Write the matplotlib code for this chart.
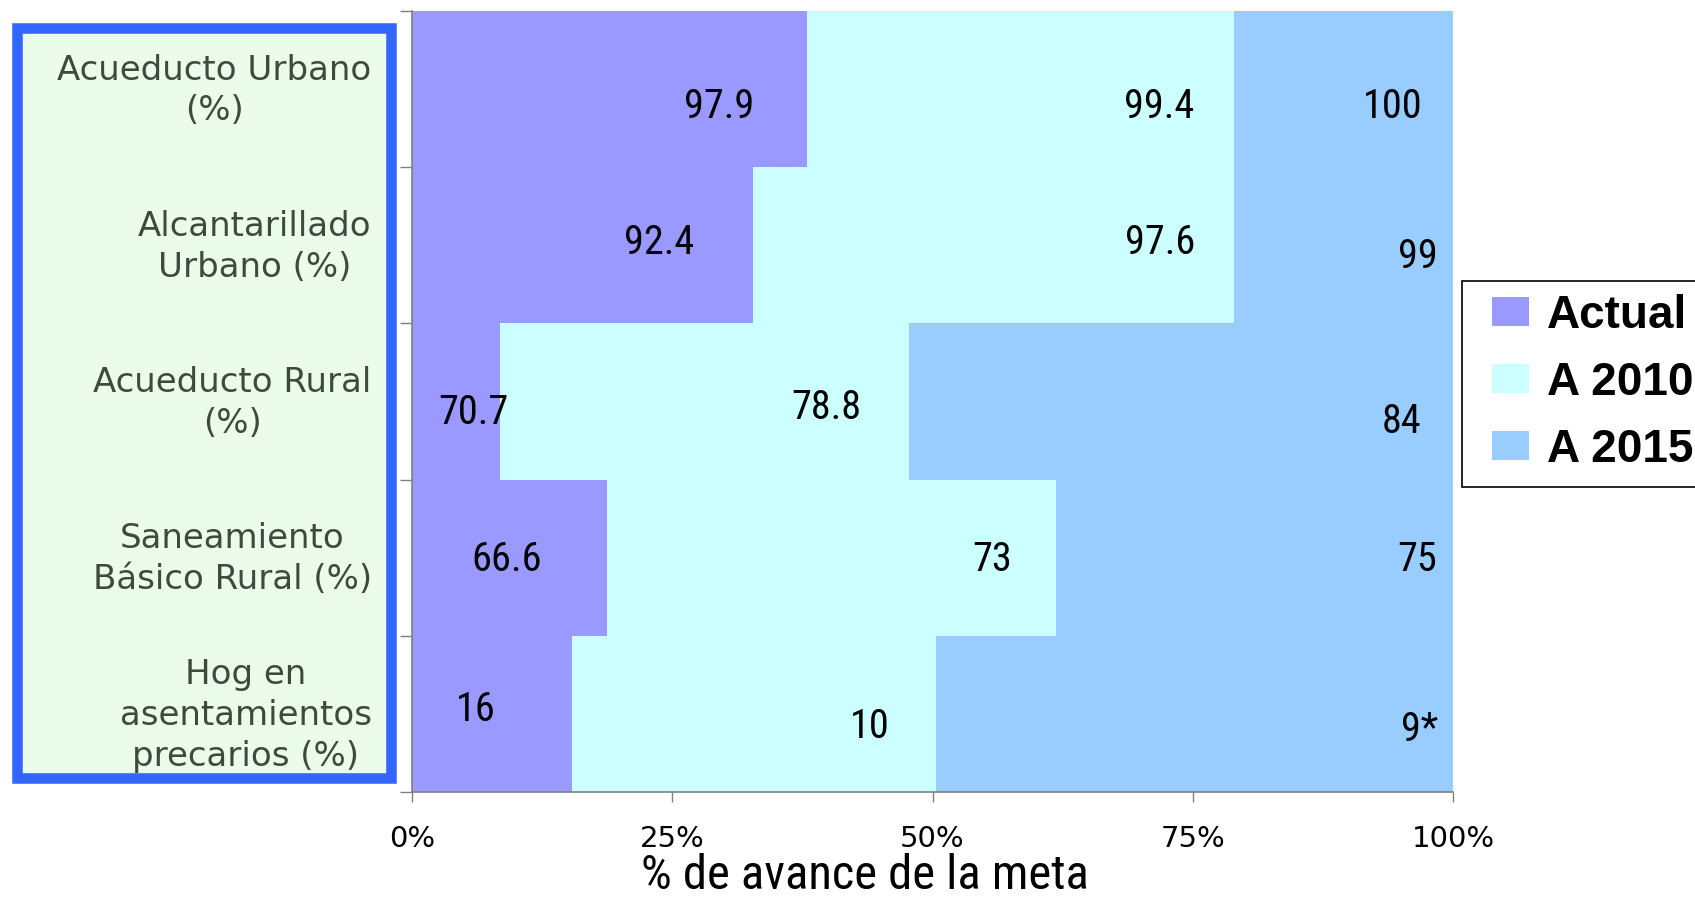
import numpy as np
import matplotlib
matplotlib.use("Agg")
import matplotlib.pyplot as plt
from matplotlib.patches import Rectangle, Patch
from matplotlib.transforms import ScaledTranslation

# datos
categorias = ["Acueducto Urbano\n(%)", "Alcantarillado\nUrbano (%)", "Acueducto Rural\n(%)",
              "Saneamiento\nBásico Rural (%)", "Hog en\nasentamientos\nprecarios (%)"]
series = ["Actual", "A 2010", "A 2015"]
# ancho de cada tramo (% de avance de la meta)
ancho_actual = [37.9, 32.8, 8.5, 18.7, 15.4]
ancho_2010 = [41.1, 46.2, 39.2, 43.2, 34.9]
ancho_2015 = [21.0, 21.0, 52.3, 38.1, 49.7]
# valores mostrados
val_actual = ["97.9", "92.4", "70.7", "66.6", "16"]
val_2010 = ["99.4", "97.6", "78.8", "73", "10"]
val_2015 = ["100", "99", "84", "75", "9*"]

colores = ["#9999ff", "#ccffff", "#99ccff"]

# posicion de las etiquetas (x en %, y en filas)
pos_actual = [(29.5, 0.11), (23.7, 0.98), (5.9, 2.07), (9.1, 3.01), (6.1, 3.97)]
pos_2010 = [(71.8, 0.11), (71.9, 0.98), (39.8, 2.04), (55.7, 3.01), (44.0, 4.08)]
pos_2015 = [(94.2, 0.11), (96.6, 1.07), (95.1, 2.13), (96.6, 3.01), (96.8, 4.10)]

fig = plt.figure(figsize=(16.95, 8.99), dpi=100)
ax = fig.add_axes([412/1695, 1-792/899, (1453-412)/1695, (792-11)/899])

y = np.arange(len(categorias))
izq = np.zeros(len(categorias))
for anchos, col in zip([ancho_actual, ancho_2010, ancho_2015], colores):
    ax.barh(y, anchos, left=izq, height=1.0, color=col, edgecolor="none")
    izq = izq + np.array(anchos)

fuente_num = ["Roboto Condensed", "Liberation Sans"]
for vals, pos in zip([val_actual, val_2010, val_2015], [pos_actual, pos_2010, pos_2015]):
    for v, (px, py) in zip(vals, pos):
        ax.text(px, py, v, ha="center", va="center", fontsize=29, family=fuente_num,
                color="black")

ax.set_xlim(0, 100)
ax.set_ylim(len(categorias)-0.5, -0.5)
ax.set_xticks([0, 25, 50, 75, 100])
ax.set_xticklabels(["0%", "25%", "50%", "75%", "100%"], fontsize=21, family="DejaVu Sans")
ax.tick_params(axis="x", length=7, width=1, color="#808080", pad=17)

ax.set_yticks(y)
ax.set_yticklabels(categorias, fontsize=24.5, family="DejaVu Sans", color="#3d4b3d",
                   linespacing=1.3, multialignment="center")
ax.set_yticks(np.arange(len(categorias)+1) - 0.5, minor=True)
ax.tick_params(axis="y", which="major", length=0, pad=29)
ax.tick_params(axis="y", which="minor", length=9, width=1, color="#808080")
subir = ScaledTranslation(0, 0.06, fig.dpi_scale_trans)
for et in ax.get_yticklabels():
    et.set_transform(et.get_transform() + subir)

for s in ["top", "right"]:
    ax.spines[s].set_visible(False)
for s in ["left", "bottom"]:
    ax.spines[s].set_color("#808080")
    ax.spines[s].set_linewidth(1.2)

fig.text(865/1695, 1-876/899, "% de avance de la meta", ha="center", va="center",
         fontsize=35, family=fuente_num)

# recuadro de las categorias
caja = Rectangle((16.5/1695, 1-778/899), 374/1695, 750/899, transform=fig.transFigure,
                 facecolor="#ebfceb", edgecolor="#3366ff", linewidth=7.6, zorder=-5)
fig.add_artist(caja)

# marco de la leyenda (sale del borde derecho)
marco = Rectangle((1462/1695, 1-487/899), 300/1695, 206/899, transform=fig.transFigure,
                  facecolor="white", edgecolor="black", linewidth=1.2, zorder=4)
fig.add_artist(marco)

manijas = [Patch(facecolor=c, edgecolor="none") for c in colores]
leg = fig.legend(manijas, series, loc="upper left", bbox_to_anchor=(1492/1695, 1-294/899),
                 prop={"family": "Liberation Sans", "weight": "bold", "size": 33},
                 frameon=False, handlelength=0.8, handleheight=0.6, handletextpad=0.4,
                 labelspacing=0.5, borderpad=0.0, borderaxespad=0)
leg.set_zorder(5)

fig.savefig("out.png", dpi=100)
